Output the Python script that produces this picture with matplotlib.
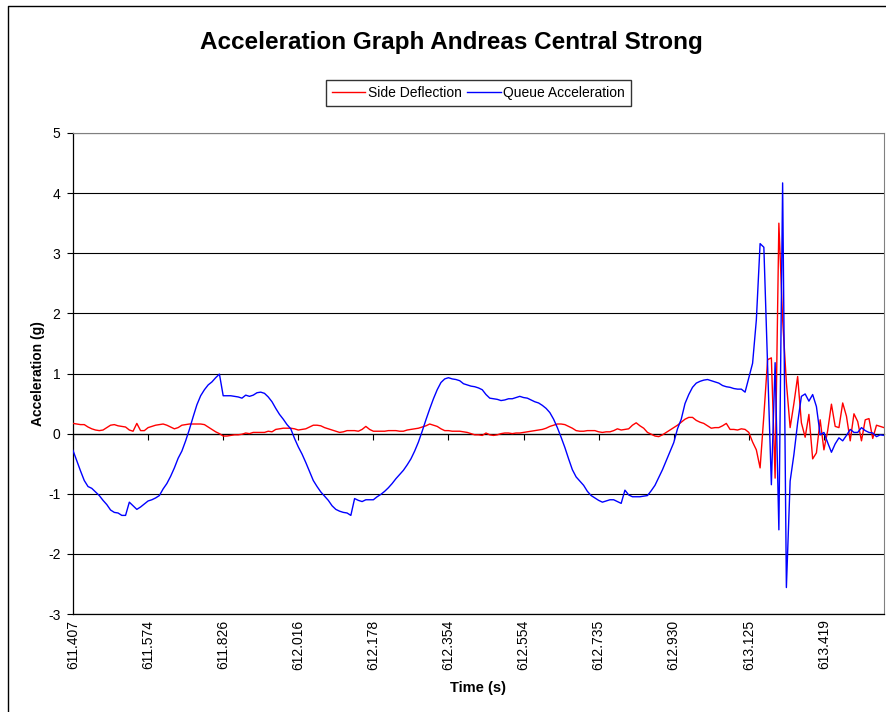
import matplotlib
matplotlib.use("Agg")
import matplotlib.pyplot as plt
from matplotlib.lines import Line2D

plt.rcParams['font.family'] = ['Liberation Sans', 'DejaVu Sans']
plt.rcParams['axes.unicode_minus'] = False

title = "Acceleration Graph Andreas Central Strong"
x_label = "Time (s)"
y_label = "Acceleration (g)"
series_names = ["Side Deflection", "Queue Acceleration"]
tick_labels = ["611.407", "611.574", "611.826", "612.016", "612.178", "612.354",
               "612.554", "612.735", "612.930", "613.125", "613.419"]
label_every = 20

side_deflection = [
    0.17, 0.16, 0.15, 0.15, 0.11, 0.08, 0.06, 0.05, 0.06, 0.10,
    0.14, 0.15, 0.13, 0.12, 0.11, 0.06, 0.04, 0.17, 0.05, 0.05,
    0.10, 0.12, 0.14, 0.15, 0.16, 0.14, 0.11, 0.08, 0.10, 0.14,
    0.15, 0.16, 0.16, 0.16, 0.16, 0.15, 0.11, 0.07, 0.03, 0.00,
    -0.04, -0.04, -0.03, -0.02, -0.02, -0.01, 0.01, 0.00, 0.02, 0.02,
    0.02, 0.02, 0.04, 0.03, 0.07, 0.08, 0.09, 0.09, 0.09, 0.08,
    0.06, 0.07, 0.08, 0.11, 0.14, 0.14, 0.13, 0.10, 0.08, 0.06,
    0.04, 0.02, 0.03, 0.05, 0.05, 0.05, 0.04, 0.07, 0.12, 0.07,
    0.04, 0.04, 0.04, 0.04, 0.05, 0.05, 0.05, 0.04, 0.04, 0.06,
    0.07, 0.08, 0.09, 0.11, 0.13, 0.16, 0.14, 0.12, 0.08, 0.05,
    0.05, 0.04, 0.04, 0.04, 0.03, 0.02, 0.00, -0.02, -0.02, -0.03,
    0.01, -0.02, -0.03, -0.02, 0.00, 0.01, 0.01, 0.00, 0.01, 0.01,
    0.02, 0.03, 0.04, 0.05, 0.06, 0.07, 0.09, 0.12, 0.14, 0.16,
    0.16, 0.15, 0.12, 0.09, 0.05, 0.04, 0.04, 0.05, 0.05, 0.05,
    0.03, 0.02, 0.03, 0.03, 0.05, 0.08, 0.06, 0.07, 0.08, 0.14,
    0.18, 0.13, 0.09, 0.02, -0.01, -0.04, -0.05, -0.02, 0.02, 0.06,
    0.10, 0.14, 0.19, 0.24, 0.27, 0.27, 0.22, 0.19, 0.17, 0.13,
    0.09, 0.10, 0.10, 0.13, 0.17, 0.07, 0.07, 0.06, 0.08, 0.07,
    0.02, -0.14, -0.27, -0.57, 0.30, 1.23, 1.26, -0.74, 3.50, 1.90,
    0.85, 0.10, 0.50, 0.95, 0.18, -0.06, 0.32, -0.42, -0.32, 0.23,
    -0.27, 0.05, 0.49, 0.12, 0.10, 0.51, 0.29, -0.12, 0.33, 0.20,
    -0.12, 0.23, 0.25, -0.08, 0.14, 0.12, 0.10,
]

queue_acceleration = [
    -0.28, -0.45, -0.62, -0.78, -0.88, -0.91, -0.97, -1.03, -1.11, -1.18,
    -1.27, -1.31, -1.32, -1.36, -1.36, -1.14, -1.20, -1.26, -1.22, -1.17,
    -1.12, -1.10, -1.07, -1.03, -0.92, -0.83, -0.71, -0.57, -0.41, -0.29,
    -0.12, 0.07, 0.28, 0.48, 0.63, 0.73, 0.81, 0.86, 0.93, 0.99,
    0.63, 0.63, 0.63, 0.62, 0.61, 0.59, 0.64, 0.62, 0.64, 0.68,
    0.69, 0.67, 0.61, 0.53, 0.42, 0.32, 0.24, 0.15, 0.08, -0.08,
    -0.22, -0.34, -0.48, -0.63, -0.78, -0.88, -0.97, -1.04, -1.11, -1.20,
    -1.26, -1.29, -1.31, -1.32, -1.36, -1.08, -1.11, -1.13, -1.10, -1.10,
    -1.10, -1.05, -1.01, -0.96, -0.90, -0.83, -0.75, -0.68, -0.61, -0.52,
    -0.42, -0.29, -0.14, 0.04, 0.23, 0.41, 0.58, 0.73, 0.85, 0.91,
    0.93, 0.91, 0.90, 0.88, 0.83, 0.81, 0.79, 0.78, 0.76, 0.73,
    0.65, 0.59, 0.58, 0.57, 0.55, 0.56, 0.58, 0.58, 0.60, 0.62,
    0.60, 0.59, 0.56, 0.53, 0.51, 0.47, 0.42, 0.35, 0.24, 0.10,
    -0.06, -0.23, -0.42, -0.60, -0.72, -0.79, -0.86, -0.96, -1.03, -1.07,
    -1.11, -1.14, -1.12, -1.10, -1.10, -1.13, -1.16, -0.94, -1.02, -1.05,
    -1.05, -1.05, -1.04, -1.03, -0.95, -0.86, -0.73, -0.60, -0.45, -0.30,
    -0.15, 0.08, 0.24, 0.50, 0.65, 0.77, 0.84, 0.87, 0.89, 0.90,
    0.88, 0.86, 0.84, 0.80, 0.78, 0.77, 0.75, 0.74, 0.74, 0.69,
    0.93, 1.17, 1.89, 3.16, 3.10, 1.15, -0.85, 1.18, -1.60, 4.17,
    -2.56, -0.79, -0.35, 0.18, 0.62, 0.66, 0.54, 0.65, 0.45, -0.02,
    0.02, -0.15, -0.31, -0.17, -0.07, -0.12, -0.03, 0.07, 0.02, 0.02,
    0.10, 0.05, 0.02, 0.01, -0.05, -0.02, -0.03,
]

W, H = 887, 712
fig = plt.figure(figsize=(W / 100, H / 100), dpi=100)
fig.patch.set_facecolor('white')

L, R, T, B = 73, 884, 133, 614
ax = fig.add_axes([L / W, 1 - B / H, (R - L) / W, (B - T) / H])

n = len(queue_acceleration)
idx = list(range(n))
ax.plot(idx, side_deflection, color='#FF0000', lw=1.0, label=series_names[0], zorder=3)
ax.plot(idx, queue_acceleration, color='#0000FF', lw=1.0, label=series_names[1], zorder=4)

ax.set_xlim(0, n - 1)
ax.set_ylim(-3, 5)
ax.set_yticks(range(-3, 6))
ax.yaxis.grid(True, color='#000000', lw=0.8)
ax.set_axisbelow(True)

tick_pos = [i * label_every for i in range(len(tick_labels))]
ax.set_xticks(tick_pos)
ax.set_xticklabels(tick_labels, rotation=90, fontsize=10, va='top', ha='center')
ax.tick_params(axis='x', length=0, pad=4)
ax.tick_params(axis='y', direction='out', length=4, width=0.8, labelsize=10, pad=5)

for s in ['top', 'right']:
    ax.spines[s].set_color('#808080')
    ax.spines[s].set_linewidth(0.8)
ax.spines['left'].set_color('black')
ax.spines['bottom'].set_color('black')
ax.spines['left'].set_linewidth(0.9)
ax.spines['bottom'].set_linewidth(0.9)

# category axis crossing at zero with its tick marks
sec = ax.secondary_xaxis(3 / 8)
sec.set_xticks(tick_pos)
sec.set_xticklabels([''] * len(tick_pos))
sec.tick_params(axis='x', direction='out', length=4, width=0.8, color='black')
sec.spines['bottom'].set_color('black')
sec.spines['bottom'].set_linewidth(0.9)

ax.set_xlabel(x_label, fontsize=10.5, fontweight='bold', labelpad=8)
ax.set_ylabel(y_label, fontsize=10, fontweight='bold', labelpad=2)

fig.text(0.5085, 1 - 42 / H, title, fontsize=17.5, fontweight='bold',
         ha='center', va='center')

leg = fig.legend(loc='center', bbox_to_anchor=(478.5 / W, 1 - 93 / H), ncol=2,
                 fontsize=10, frameon=True, fancybox=False, handlelength=2.4,
                 handletextpad=0.2, columnspacing=0.4, borderpad=0.4,
                 borderaxespad=0)
leg.get_frame().set_edgecolor('black')
leg.get_frame().set_linewidth(1.0)

fig.add_artist(Line2D([8 / W, 8 / W, 1.0], [0, 1 - 6 / H, 1 - 6 / H],
                      transform=fig.transFigure, color='black', lw=1.0))

fig.savefig('out.png', dpi=100)
